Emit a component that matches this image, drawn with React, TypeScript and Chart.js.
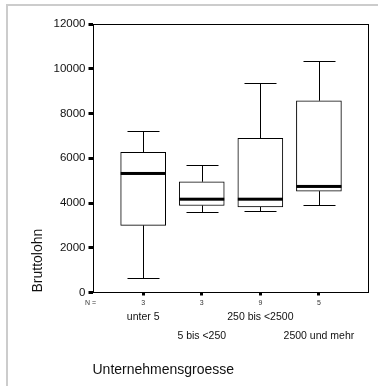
import React, { useEffect, useRef } from "react";
import { Chart, registerables } from "chart.js";

Chart.register(...registerables);

const categories = ["unter 5", "5 bis <250", "250 bis <2500", "2500 und mehr"];
const counts = [3, 3, 9, 5];
const whiskerLow = [630, 3590, 3640, 3920];
const q1 = [3000, 3890, 3830, 4530];
const median = [5320, 4170, 4170, 4740];
const q3 = [6260, 4950, 6890, 8570];
const whiskerHigh = [7200, 5710, 9350, 10330];
const yMin = 0;
const yMax = 12000;
const yStep = 2000;
const yTitle = "Bruttolohn";
const xTitle = "Unternehmensgroesse";
const nLabel = "N =";

const FONT = "'Liberation Sans', Arial, sans-serif";

const boxParts = {
  id: "boxParts",
  beforeDraw(chart: any) {
    const ctx = chart.ctx;
    ctx.save();
    ctx.fillStyle = "#cccccc";
    ctx.fillRect(6, 4, 372, 2);
    ctx.fillRect(6, 4, 2, 382);
    ctx.restore();
  },
  beforeDatasetsDraw(chart: any) {
    const ctx = chart.ctx;
    const x = chart.scales.x;
    const y = chart.scales.y;
    ctx.save();
    ctx.strokeStyle = "#000";
    ctx.lineWidth = 1;
    const capHalf = 16;
    for (let i = 0; i < categories.length; i++) {
      const cx = Math.round(x.getPixelForValue(i)) + 0.5;
      const lo = Math.round(y.getPixelForValue(whiskerLow[i])) + 0.5;
      const hi = Math.round(y.getPixelForValue(whiskerHigh[i])) + 0.5;
      const b1 = y.getPixelForValue(q1[i]);
      const b3 = y.getPixelForValue(q3[i]);
      ctx.beginPath();
      ctx.moveTo(cx, hi);
      ctx.lineTo(cx, b3);
      ctx.moveTo(cx, b1);
      ctx.lineTo(cx, lo);
      ctx.moveTo(cx - capHalf, hi);
      ctx.lineTo(cx + capHalf, hi);
      ctx.moveTo(cx - capHalf, lo);
      ctx.lineTo(cx + capHalf, lo);
      ctx.stroke();
    }
    ctx.restore();
  },
  afterDatasetsDraw(chart: any) {
    const ctx = chart.ctx;
    const x = chart.scales.x;
    const y = chart.scales.y;
    ctx.save();
    ctx.fillStyle = "#000";
    for (let i = 0; i < categories.length; i++) {
      const cx = x.getPixelForValue(i);
      const my = y.getPixelForValue(median[i]);
      ctx.fillRect(cx - 22.5, my - 1.5, 45, 3);
    }
    ctx.restore();
  },
  afterDraw(chart: any) {
    const ctx = chart.ctx;
    const a = chart.chartArea;
    const x = chart.scales.x;
    ctx.save();
    ctx.strokeStyle = "#000";
    ctx.lineWidth = 1;
    const l = Math.round(a.left) + 0.5;
    const t = Math.round(a.top) + 0.5;
    const r = Math.round(a.right) - 0.5;
    const b = Math.round(a.bottom) - 0.5;
    ctx.strokeRect(l, t, r - l, b - t);
    // N row
    ctx.fillStyle = "#333";
    ctx.font = `7px ${FONT}`;
    ctx.textBaseline = "middle";
    ctx.textAlign = "left";
    ctx.fillText(nLabel, 85, 303);
    ctx.textAlign = "center";
    for (let i = 0; i < counts.length; i++) {
      ctx.fillText(String(counts[i]), x.getPixelForValue(i), 303);
    }
    // category labels, staggered
    ctx.fillStyle = "#111";
    ctx.font = `10.5px ${FONT}`;
    for (let i = 0; i < categories.length; i++) {
      const ty = i % 2 === 0 ? 317.5 : 336;
      ctx.fillText(categories[i], x.getPixelForValue(i), ty);
    }
    ctx.restore();
  },
};

export default function App() {
  const ref = useRef<HTMLCanvasElement | null>(null);
  useEffect(() => {
    if (!ref.current) return;
    const chart = new Chart(ref.current, {
      type: "bar",
      data: {
        datasets: [
          {
            data: categories.map((_, i) => ({ x: i, y: [q1[i], q3[i]] })) as any,
            backgroundColor: "#ffffff",
            borderColor: "#000000",
            borderWidth: 1,
            borderSkipped: false,
            barThickness: 45,
          },
        ],
      },
      options: {
        animation: false,
        responsive: false,
        layout: { padding: { left: 0, top: 24, right: 9, bottom: 0 } },
        plugins: { legend: { display: false }, tooltip: { enabled: false } },
        scales: {
          x: {
            type: "linear",
            offset: false,
            min: -0.865,
            max: 3.855,
            afterBuildTicks: (s: any) => {
              s.ticks = categories.map((_, i) => ({ value: i }));
            },
            afterFit: (s: any) => {
              s.height = 93.5;
            },
            ticks: { display: false },
            grid: {
              offset: false,
              drawOnChartArea: false,
              drawTicks: true,
              tickLength: 3,
              tickWidth: 3,
              tickColor: "#000",
            },
            border: { display: false },
            title: {
              display: true,
              text: xTitle,
              align: "start",
              color: "#111",
              font: { family: FONT, size: 14 },
              padding: { top: 0, bottom: 7.6 },
            },
          },
          y: {
            type: "linear",
            min: yMin,
            max: yMax,
            afterFit: (s: any) => {
              s.width = 92.5;
            },
            ticks: {
              stepSize: yStep,
              padding: 3,
              color: "#111",
              font: { family: FONT, size: 11.5 },
              callback: (v: any) => String(v),
            },
            grid: {
              drawOnChartArea: false,
              drawTicks: true,
              tickLength: 4,
              tickWidth: 3,
              tickColor: "#000",
            },
            border: { display: false },
            title: {
              display: true,
              text: yTitle,
              align: "start",
              color: "#111",
              font: { family: FONT, size: 14 },
              padding: { top: 29.6, bottom: 0 },
            },
          },
        },
      },
      plugins: [boxParts],
    });
    return () => chart.destroy();
  }, []);
  return (
    <div style={{ position: "absolute", left: 0, top: 0, width: 378, height: 386, background: "#fff" }}>
      <canvas ref={ref} width={378} height={386} style={{ display: "block" }} />
    </div>
  );
}
